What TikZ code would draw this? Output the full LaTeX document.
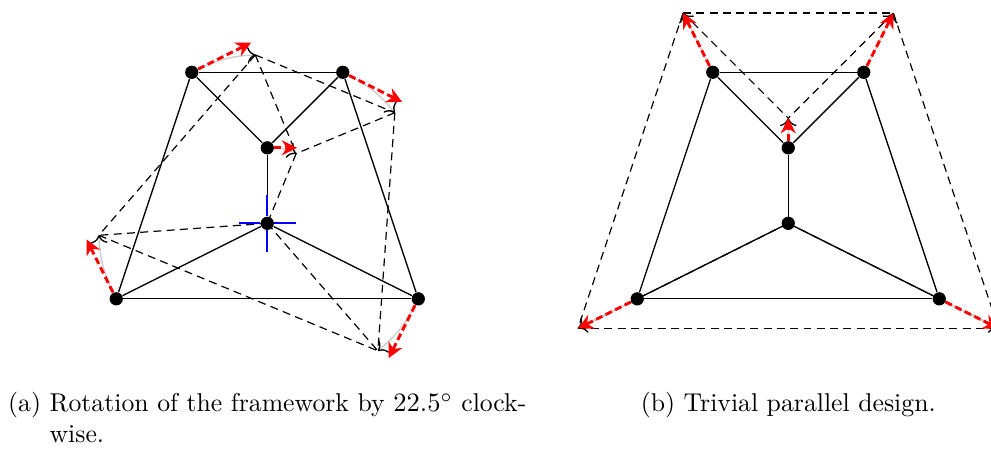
\documentclass[tikz,border=0pt]{standalone}
\usepackage{amsmath,amssymb}
\usepackage{xcolor}
\usepackage{tikz}
\usetikzlibrary{arrows.meta,positioning}

\begin{document}
\begin{tikzpicture}[
        vtx/.style={circle, fill=black, inner sep=0pt, minimum size=5pt},
        bar/.style={black, line width=0.5pt},
        ghost/.style={black, dash pattern=on 3pt off 2pt, line width=0.45pt},
        trail/.style={gray!40, line width=0.5pt, -{To[black, length=3pt]}},
        velo/.style={red, dash pattern=on 2.6pt off 1.4pt, line width=1.1pt, -{Stealth[length=2mm,width=2mm]}},
        centre/.style={blue, line width=0.75pt},
        captext/.style={font=\fontsize{9.7}{11.6}\selectfont, inner sep=0pt, anchor=base}
    ]
    \useasboundingbox (-3.54,-2.99) rectangle (9.585,2.958);
    % (a) rotation about the lower centre vertex
    \node[vtx] (a-tl) at (-1,2) {};
    \node[vtx] (a-tr) at (1,2) {};
    \node[vtx] (a-mt) at (0,1) {};
    \node[vtx] (a-mb) at (0,0) {};
    \node[vtx] (a-bl) at (-2,-1) {};
    \node[vtx] (a-br) at (2,-1) {};
    \begin{scope}[rotate=-22.5]
        \coordinate (ra-tl) at (-1,2);
        \coordinate (ra-tr) at (1,2);
        \coordinate (ra-mt) at (0,1);
        \coordinate (ra-mb) at (0,0);
        \coordinate (ra-bl) at (-2,-1);
        \coordinate (ra-br) at (2,-1);
    \end{scope}
    \foreach \u/\v in {tl/tr, tl/mt, tr/mt, mt/mb, mb/bl, mb/br, bl/br, tl/bl, tr/br} {
        \draw[bar] (a-\u) -- (a-\v);
        \draw[ghost] (ra-\u) -- (ra-\v);
    }
    \foreach \n/\x/\y in {tl/-1/2, tr/1/2, mt/0/1, bl/-2/-1, br/2/-1} {
        \draw[trail] (a-\n) to[bend left=11.25] (ra-\n);
        \draw[velo] (a-\n) -- ++({0.3927*\y},{-0.3927*\x});
    }
    \foreach \d in {0,90,180,270}
        \draw[centre] (a-mb) -- ++(\d:0.38);

    % (b) parallel scaled copy
    \begin{scope}[xshift=6.9cm]
        \node[vtx] (b-tl) at (-1,2) {};
        \node[vtx] (b-tr) at (1,2) {};
        \node[vtx] (b-mt) at (0,1) {};
        \node[vtx] (b-mb) at (0,0) {};
        \node[vtx] (b-bl) at (-2,-1) {};
        \node[vtx] (b-br) at (2,-1) {};
        \begin{scope}[scale=1.3927]
            \coordinate (sb-tl) at (-1,2);
            \coordinate (sb-tr) at (1,2);
            \coordinate (sb-mt) at (0,1);
            \coordinate (sb-mb) at (0,0);
            \coordinate (sb-bl) at (-2,-1);
            \coordinate (sb-br) at (2,-1);
        \end{scope}
    \end{scope}
    \foreach \u/\v in {tl/tr, tl/mt, tr/mt, mt/mb, mb/bl, mb/br, bl/br, tl/bl, tr/br} {
        \draw[bar] (b-\u) -- (b-\v);
        \draw[ghost] (sb-\u) -- (sb-\v);
    }
    \foreach \n in {tl, tr, mt, bl, br} {
        \draw[trail] (b-\n) -- (sb-\n);
        \draw[velo] (b-\n) -- (sb-\n);
    }

    % captions
    \node[captext] (capA) at (0,-2.495) {\begin{tabular}[t]{@{}l@{\ }l@{}}(a) & Rotation of the framework by $22.5^\circ$ clock-\\ & wise.\end{tabular}};
    \node[captext] (capB) at (6.9,-2.495) {(b) Trivial parallel design.};
\end{tikzpicture}
\end{document}
